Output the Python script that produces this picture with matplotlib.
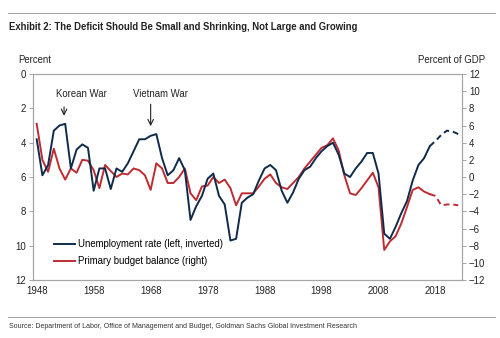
"""Exhibit 2: unemployment rate (inverted) vs primary budget balance, 1948-2022."""

import matplotlib

matplotlib.use("Agg")
import matplotlib.pyplot as plt

plt.rcParams["font.family"] = ["Liberation Sans", "DejaVu Sans"]

BLUE = "#0f2b4c"
RED = "#bd2c33"
GRAY = "#a6a6a6"

years = list(range(1948, 2023))
# unemployment rate, percent (left axis, inverted); 2018 onward is the projection
unemp = [3.8, 5.9, 5.3, 3.3, 3.0, 2.9, 5.5, 4.4, 4.1, 4.3,
         6.8, 5.5, 5.5, 6.7, 5.5, 5.7, 5.2, 4.5, 3.8, 3.8,
         3.6, 3.5, 4.9, 5.9, 5.6, 4.9, 5.6, 8.5, 7.7, 7.1,
         6.1, 5.8, 7.1, 7.6, 9.7, 9.6, 7.5, 7.2, 7.0, 6.2,
         5.5, 5.3, 5.6, 6.8, 7.5, 6.9, 6.1, 5.6, 5.4, 4.9,
         4.5, 4.2, 4.0, 4.7, 5.8, 6.0, 5.5, 5.1, 4.6, 4.6,
         5.8, 9.3, 9.6, 8.9, 8.1, 7.4, 6.2, 5.3, 4.9, 4.2,
         3.9, 3.55, 3.3, 3.35, 3.5]
# primary budget balance, percent of GDP (right axis)
balance = [6.2, 2.0, 0.6, 3.3, 1.0, -0.3, 1.0, 0.5, 2.0, 1.9,
           0.8, -1.3, 1.4, 0.7, 0.0, 0.4, 0.3, 1.0, 0.8, 0.2,
           -1.5, 1.6, 1.0, -0.7, -0.7, 0.0, 1.0, -1.9, -2.7, -1.1,
           -1.0, 0.0, -0.7, -0.3, -1.3, -3.3, -1.9, -1.9, -1.9, -1.1,
           -0.2, 0.3, -0.7, -1.2, -1.4, -0.7, 0.0, 1.0, 1.8, 2.6,
           3.4, 3.7, 4.5, 3.1, 0.2, -1.9, -2.1, -1.3, -0.4, 0.5,
           -1.2, -8.5, -7.5, -6.9, -5.4, -3.5, -1.5, -1.2, -1.7, -2.0,
           -2.2, -3.3, -3.2, -3.2, -3.3]
last_actual = 2017
xtick_years = list(range(1948, 2019, 10))

cut = years.index(last_actual) + 1

fig = plt.figure(figsize=(5.0, 3.38), dpi=100)
ax = fig.add_axes([0.066, 0.1716, 0.858, 0.6094])
ax2 = ax.twinx()

ax2.plot(years[:cut], balance[:cut], color=RED, lw=1.4)
ax2.plot(years[cut - 1:], balance[cut - 1:], color=RED, lw=1.4, ls=(0, (3, 2)))
ax.plot(years[:cut], unemp[:cut], color=BLUE, lw=1.4)
ax.plot(years[cut - 1:], unemp[cut - 1:], color=BLUE, lw=1.4, ls=(0, (3, 2)))
ax.set_zorder(ax2.get_zorder() + 1)
ax.patch.set_visible(False)

ax.set_xlim(1947.35, 2022.65)
ax.set_ylim(12, 0)
ax.set_yticks(range(0, 13, 2))
ax2.set_ylim(-12, 12)
ax2.set_yticks(range(-12, 13, 2))
ax.set_xticks(xtick_years)

for a in (ax, ax2):
    for s in a.spines.values():
        s.set_color(GRAY)
        s.set_linewidth(0.8)
    a.tick_params(labelsize=6.9, colors="#222222", length=3, width=0.7, color=GRAY, pad=2)
ax.tick_params(axis="x", length=0, pad=4)

fig.text(0.036, 0.815, "Percent", fontsize=6.9, color="#222222")
fig.text(0.970, 0.815, "Percent of GDP", fontsize=6.9, color="#222222", ha="right")

arrow = dict(arrowstyle="->", color="#222222", lw=0.8)
ax.annotate("Korean War", xy=(1952.8, 2.6), xytext=(1955.9, 1.15), fontsize=6.9,
            ha="center", va="center", color="#222222")
ax.annotate("", xy=(1952.8, 2.6), xytext=(1952.8, 1.75), arrowprops=arrow)
ax.annotate("Vietnam War", xy=(1968.0, 3.2), xytext=(1969.8, 1.15), fontsize=6.9,
            ha="center", va="center", color="#222222")
ax.annotate("", xy=(1968.0, 3.2), xytext=(1968.0, 1.6), arrowprops=arrow)

h1 = plt.Line2D([], [], color=BLUE, lw=1.4)
h2 = plt.Line2D([], [], color=RED, lw=1.4)
ax.legend([h1, h2], ["Unemployment rate (left, inverted)", "Primary budget balance (right)"],
          loc="lower left", bbox_to_anchor=(0.03, 0.025), frameon=False, fontsize=6.9,
          handlelength=2.1, handletextpad=0.4, labelspacing=0.75)

fig.add_artist(plt.Line2D([0.016, 0.99], [0.961, 0.961], color=GRAY, lw=0.8))
fig.text(0.018, 0.92, "Exhibit 2: The Deficit Should Be Small and Shrinking, Not Large and Growing",
         fontsize=6.85, fontweight="bold", color="#222222", va="center")
fig.add_artist(plt.Line2D([0.016, 0.99], [0.062, 0.062], color=GRAY, lw=0.8))
fig.text(0.018, 0.033, "Source: Department of Labor, Office of Management and Budget, "
         "Goldman Sachs Global Investment Research",
         fontsize=5.05, color="#333333", va="center")

fig.savefig("out.png", dpi=100)
